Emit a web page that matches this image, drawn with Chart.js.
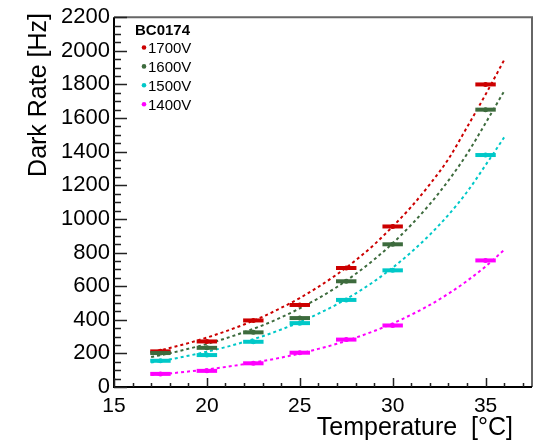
<!DOCTYPE html>
<html>
<head>
<meta charset="utf-8">
<script src="https://cdn.jsdelivr.net/npm/chart.js@4.4.0/dist/chart.umd.min.js"></script>
<style>
  html, body { margin: 0; padding: 0; background: #fff; }
  #wrap { width: 536px; height: 445px; }
</style>
</head>
<body>
<div id="wrap"><canvas id="chart" width="536" height="445"></canvas></div>
<script>
// measured points (temperature in C, dark rate in Hz)
const temps = [17.5, 20, 22.5, 25, 27.5, 30, 35];
const tempErr = 0.55;
const rate1700 = [212, 271, 396, 488, 708, 955, 1800];
const rate1600 = [202, 233, 325, 410, 629, 849, 1650];
const rate1500 = [156, 190, 269, 380, 518, 694, 1380];
const rate1400 = [78, 96, 141, 204, 282, 366, 753];

// fitted curves
const fitTemps = [17, 18, 19, 20, 21, 22, 23, 24, 25, 26, 27, 28, 29, 30, 31, 32, 33, 34, 35, 36];
const fit1700 = [207, 232, 261, 294, 331, 372, 418, 471, 529, 596, 670, 753, 847, 955, 1072, 1206, 1356, 1545, 1740, 1945];
const fit1600 = [178, 201, 227, 256, 289, 326, 367, 414, 468, 528, 595, 672, 758, 855, 965, 1088, 1228, 1386, 1570, 1760];
const fit1500 = [145, 164, 186, 210, 237, 268, 302, 342, 386, 436, 492, 556, 628, 710, 802, 906, 1024, 1160, 1320, 1485];
const fit1400 = [72, 81, 92, 105, 119, 136, 154, 175, 199, 227, 257, 293, 333, 378, 430, 488, 555, 631, 717, 815];

const legendTitle = "BC0174";
const seriesNames = ["1700V", "1600V", "1500V", "1400V"];
const colors = ["#cc0000", "#3d6b3d", "#00c8c8", "#ff00ff"];

const FONT = "'Liberation Sans', Arial, Helvetica, sans-serif";

const pts = (xs, ys) => xs.map((x, i) => ({ x: x, y: ys[i] }));

const rates = [rate1700, rate1600, rate1500, rate1400];
const fits = [fit1700, fit1600, fit1500, fit1400];

let datasets = [];
for (let i = 0; i < rates.length; i++) {
  datasets.push({
    type: "line",
    data: pts(fitTemps, fits[i]),
    borderColor: colors[i],
    borderWidth: 2,
    borderDash: [3, 3],
    pointRadius: 0,
    fill: false,
    cubicInterpolationMode: "monotone",
    order: 2
  });
}
for (let i = 0; i < rates.length; i++) {
  datasets.push({
    type: "scatter",
    label: seriesNames[i],
    isPoints: true,
    data: pts(temps, rates[i]),
    backgroundColor: colors[i],
    borderColor: colors[i],
    borderWidth: 0,
    pointRadius: 2.5,
    order: 1
  });
}

// horizontal error bars on the measured points
const errorBars = {
  id: "errorBars",
  afterDatasetsDraw(chart) {
    const ctx = chart.ctx;
    const xs = chart.scales.x;
    chart.data.datasets.forEach((ds, i) => {
      if (!ds.isPoints) return;
      const meta = chart.getDatasetMeta(i);
      ctx.save();
      ctx.strokeStyle = ds.borderColor;
      ctx.lineWidth = 4;
      ds.data.forEach((p, j) => {
        const y = meta.data[j].y;
        ctx.beginPath();
        ctx.moveTo(xs.getPixelForValue(p.x - tempErr), y);
        ctx.lineTo(xs.getPixelForValue(p.x + tempErr), y);
        ctx.stroke();
      });
      ctx.restore();
    });
  }
};

// ROOT style frame, inside ticks, titles and legend
const frame = {
  id: "frame",
  afterDraw(chart) {
    const ctx = chart.ctx;
    const a = chart.chartArea;
    const xs = chart.scales.x, ys = chart.scales.y;
    ctx.save();
    // top / right border
    ctx.strokeStyle = "#666";
    ctx.lineWidth = 2;
    ctx.beginPath();
    ctx.moveTo(a.left, a.top);
    ctx.lineTo(a.right, a.top);
    ctx.lineTo(a.right, a.bottom);
    ctx.stroke();
    // axes
    ctx.strokeStyle = "#000";
    ctx.beginPath();
    ctx.moveTo(a.left, a.top);
    ctx.lineTo(a.left, a.bottom);
    ctx.lineTo(a.right, a.bottom);
    ctx.stroke();
    // ticks
    ctx.lineWidth = 1.5;
    ctx.strokeStyle = "#222";
    ctx.beginPath();
    for (let v = ys.min; v <= ys.max; v += 50) {
      const y = Math.round(ys.getPixelForValue(v)) + 0.5;
      const len = v % 200 === 0 ? 13 : 7;
      ctx.moveTo(a.left, y);
      ctx.lineTo(a.left + len, y);
    }
    for (let v = xs.min; v <= xs.max; v += 1) {
      const x = Math.round(xs.getPixelForValue(v)) + 0.5;
      const len = v % 5 === 0 ? 9 : 4;
      ctx.moveTo(x, a.bottom);
      ctx.lineTo(x, a.bottom - len);
    }
    ctx.stroke();

    // axis titles
    ctx.fillStyle = "#000";
    ctx.font = "25px " + FONT;
    ctx.textBaseline = "alphabetic";
    ctx.textAlign = "right";
    ctx.fillText("Temperature  [\u00B0C]", 513, 435);
    ctx.save();
    ctx.translate(46, 13);
    ctx.rotate(-Math.PI / 2);
    ctx.fillText("Dark Rate [Hz]", 0, 0);
    ctx.restore();

    // legend
    ctx.textAlign = "left";
    ctx.font = "bold 15px " + FONT;
    ctx.fillText(legendTitle, 135, 35);
    ctx.font = "15px " + FONT;
    let row = 0;
    chart.data.datasets.forEach(ds => {
      if (!ds.isPoints) return;
      const cy = 47.5 + row * 18.9;
      ctx.fillStyle = ds.backgroundColor;
      ctx.beginPath();
      ctx.arc(144, cy, 2.3, 0, Math.PI * 2);
      ctx.fill();
      ctx.fillStyle = "#000";
      ctx.fillText(ds.label, 148, cy + 5.5);
      row++;
    });
    ctx.restore();
  }
};

new Chart(document.getElementById("chart"), {
  type: "scatter",
  data: { datasets: datasets },
  plugins: [errorBars, frame],
  options: {
    responsive: false,
    animation: false,
    devicePixelRatio: 1,
    layout: { padding: { top: 14, right: 4, left: 0, bottom: 0 } },
    plugins: { legend: { display: false }, tooltip: { enabled: false } },
    scales: {
      x: {
        type: "linear",
        min: 15,
        max: 37.5,
        afterFit(s) { s.height = 58; },
        grid: { display: false, drawTicks: false },
        border: { display: false },
        ticks: {
          stepSize: 5, includeBounds: false, padding: 7, color: "#000",
          font: { family: FONT, size: 21 }, maxRotation: 0, autoSkip: false,
          callback: v => String(v)
        }
      },
      y: {
        type: "linear",
        min: 0,
        max: 2200,
        afterFit(s) { s.width = 114; },
        grid: { display: false, drawTicks: false },
        border: { display: false },
        ticks: {
          stepSize: 200, padding: 4, color: "#000",
          font: { family: FONT, size: 22 }, autoSkip: false,
          callback: v => String(v)
        }
      }
    }
  }
});
</script>
</body>
</html>
